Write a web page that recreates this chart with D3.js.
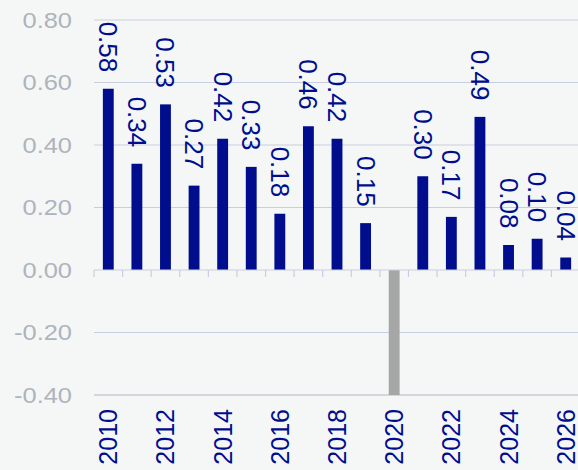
<!DOCTYPE html>
<html>
<head>
<meta charset="utf-8">
<script src="https://cdn.jsdelivr.net/npm/d3@7"></script>
<style>
  body { margin: 0; background: #f5f7f7; }
  svg { display: block; font-family: "Liberation Sans", Arial, sans-serif; }
</style>
</head>
<body>
<script>
var years = [2010,2011,2012,2013,2014,2015,2016,2017,2018,2019,2020,2021,2022,2023,2024,2025,2026];
var values = [0.58,0.34,0.53,0.27,0.42,0.33,0.18,0.46,0.42,0.15,-0.90,0.30,0.17,0.49,0.08,0.10,0.04];
var yTicks = [-0.40,-0.20,0.00,0.20,0.40,0.60,0.80];
var yearLabels = [2010,2012,2014,2016,2018,2020,2022,2024,2026];

var width = 578, height = 470;
var navy = '#000e8e';
var fmt = d => d3.format('.2f')(d).replace('\u2212', '-');

var svg = d3.select('body').append('svg').attr('width', width).attr('height', height);

var x = d3.scaleBand().domain(years).range([94, 580]).paddingInner(0.62).paddingOuter(0.31);
var y = d3.scaleLinear().domain([-0.4, 0.8]).range([395, 20]);

// gridlines
svg.append('g').selectAll('line')
	.data(yTicks.filter(d => d !== 0 && d !== -0.4))
	.enter().append('line')
		.attr('x1', 94).attr('x2', width)
		.attr('y1', d => y(d)).attr('y2', d => y(d))
		.attr('stroke', '#c9cde0').attr('stroke-width', 1.2);

// bottom line
svg.append('line')
	.attr('x1', 94).attr('x2', width)
	.attr('y1', y(-0.4)).attr('y2', y(-0.4))
	.attr('stroke', '#d3d6dc').attr('stroke-width', 2);

// y axis labels (slightly wide lettering in the original)
svg.append('g').selectAll('text')
	.data(yTicks)
	.enter().append('text')
		.attr('x', 72)
		.attr('y', d => y(d))
		.attr('text-anchor', 'end')
		.attr('dominant-baseline', 'central')
		.attr('font-size', 22.5)
		.attr('fill', '#adb4bd')
		.text(fmt)
		.each(function() {
			var w = this.getComputedTextLength();
			d3.select(this).attr('textLength', w * 1.13).attr('lengthAdjust', 'spacingAndGlyphs');
		});

// bars (clipped to plot)
svg.append('clipPath').attr('id', 'plot')
	.append('rect').attr('x', 94).attr('y', 0).attr('width', width).attr('height', y(-0.4));

svg.append('g').attr('clip-path', 'url(#plot)').selectAll('rect')
	.data(years)
	.enter().append('rect')
		.attr('x', d => x(d))
		.attr('width', x.bandwidth())
		.attr('y', (d, i) => y(Math.max(0, values[i])))
		.attr('height', (d, i) => Math.abs(y(values[i]) - y(0)))
		.attr('fill', (d, i) => values[i] < 0 ? '#a6a6a6' : navy);

// zero line with ticks
svg.append('line')
	.attr('x1', 94).attr('x2', width)
	.attr('y1', y(0)).attr('y2', y(0))
	.attr('stroke', '#c9cde0').attr('stroke-width', 1.2);
svg.append('g').selectAll('line')
	.data(years)
	.enter().append('line')
		.attr('x1', d => x(d) - x.step() * x.paddingOuter())
		.attr('x2', d => x(d) - x.step() * x.paddingOuter())
		.attr('y1', y(0)).attr('y2', y(0) + 7)
		.attr('stroke', '#c9cde0').attr('stroke-width', 1.2);

// value labels
svg.append('g').selectAll('text')
	.data(years.filter((d, i) => values[i] > 0))
	.enter().append('text')
		.attr('transform', d => {
			var v = values[years.indexOf(d)];
			return 'translate(' + (x(d) + x.bandwidth() / 2) + ',' + (y(v) - 16.5) + ') rotate(90)';
		})
		.attr('text-anchor', 'end')
		.attr('dominant-baseline', 'central')
		.attr('font-size', 26)
		.attr('fill', navy)
		.text(d => fmt(values[years.indexOf(d)]));

// year labels
svg.append('g').selectAll('text')
	.data(yearLabels)
	.enter().append('text')
		.attr('transform', d => 'translate(' + (x(d) + x.bandwidth() / 2) + ',409) rotate(-90)')
		.attr('text-anchor', 'end')
		.attr('dominant-baseline', 'central')
		.attr('font-size', 25)
		.attr('fill', navy)
		.text(d => d);
</script>
</body>
</html>
